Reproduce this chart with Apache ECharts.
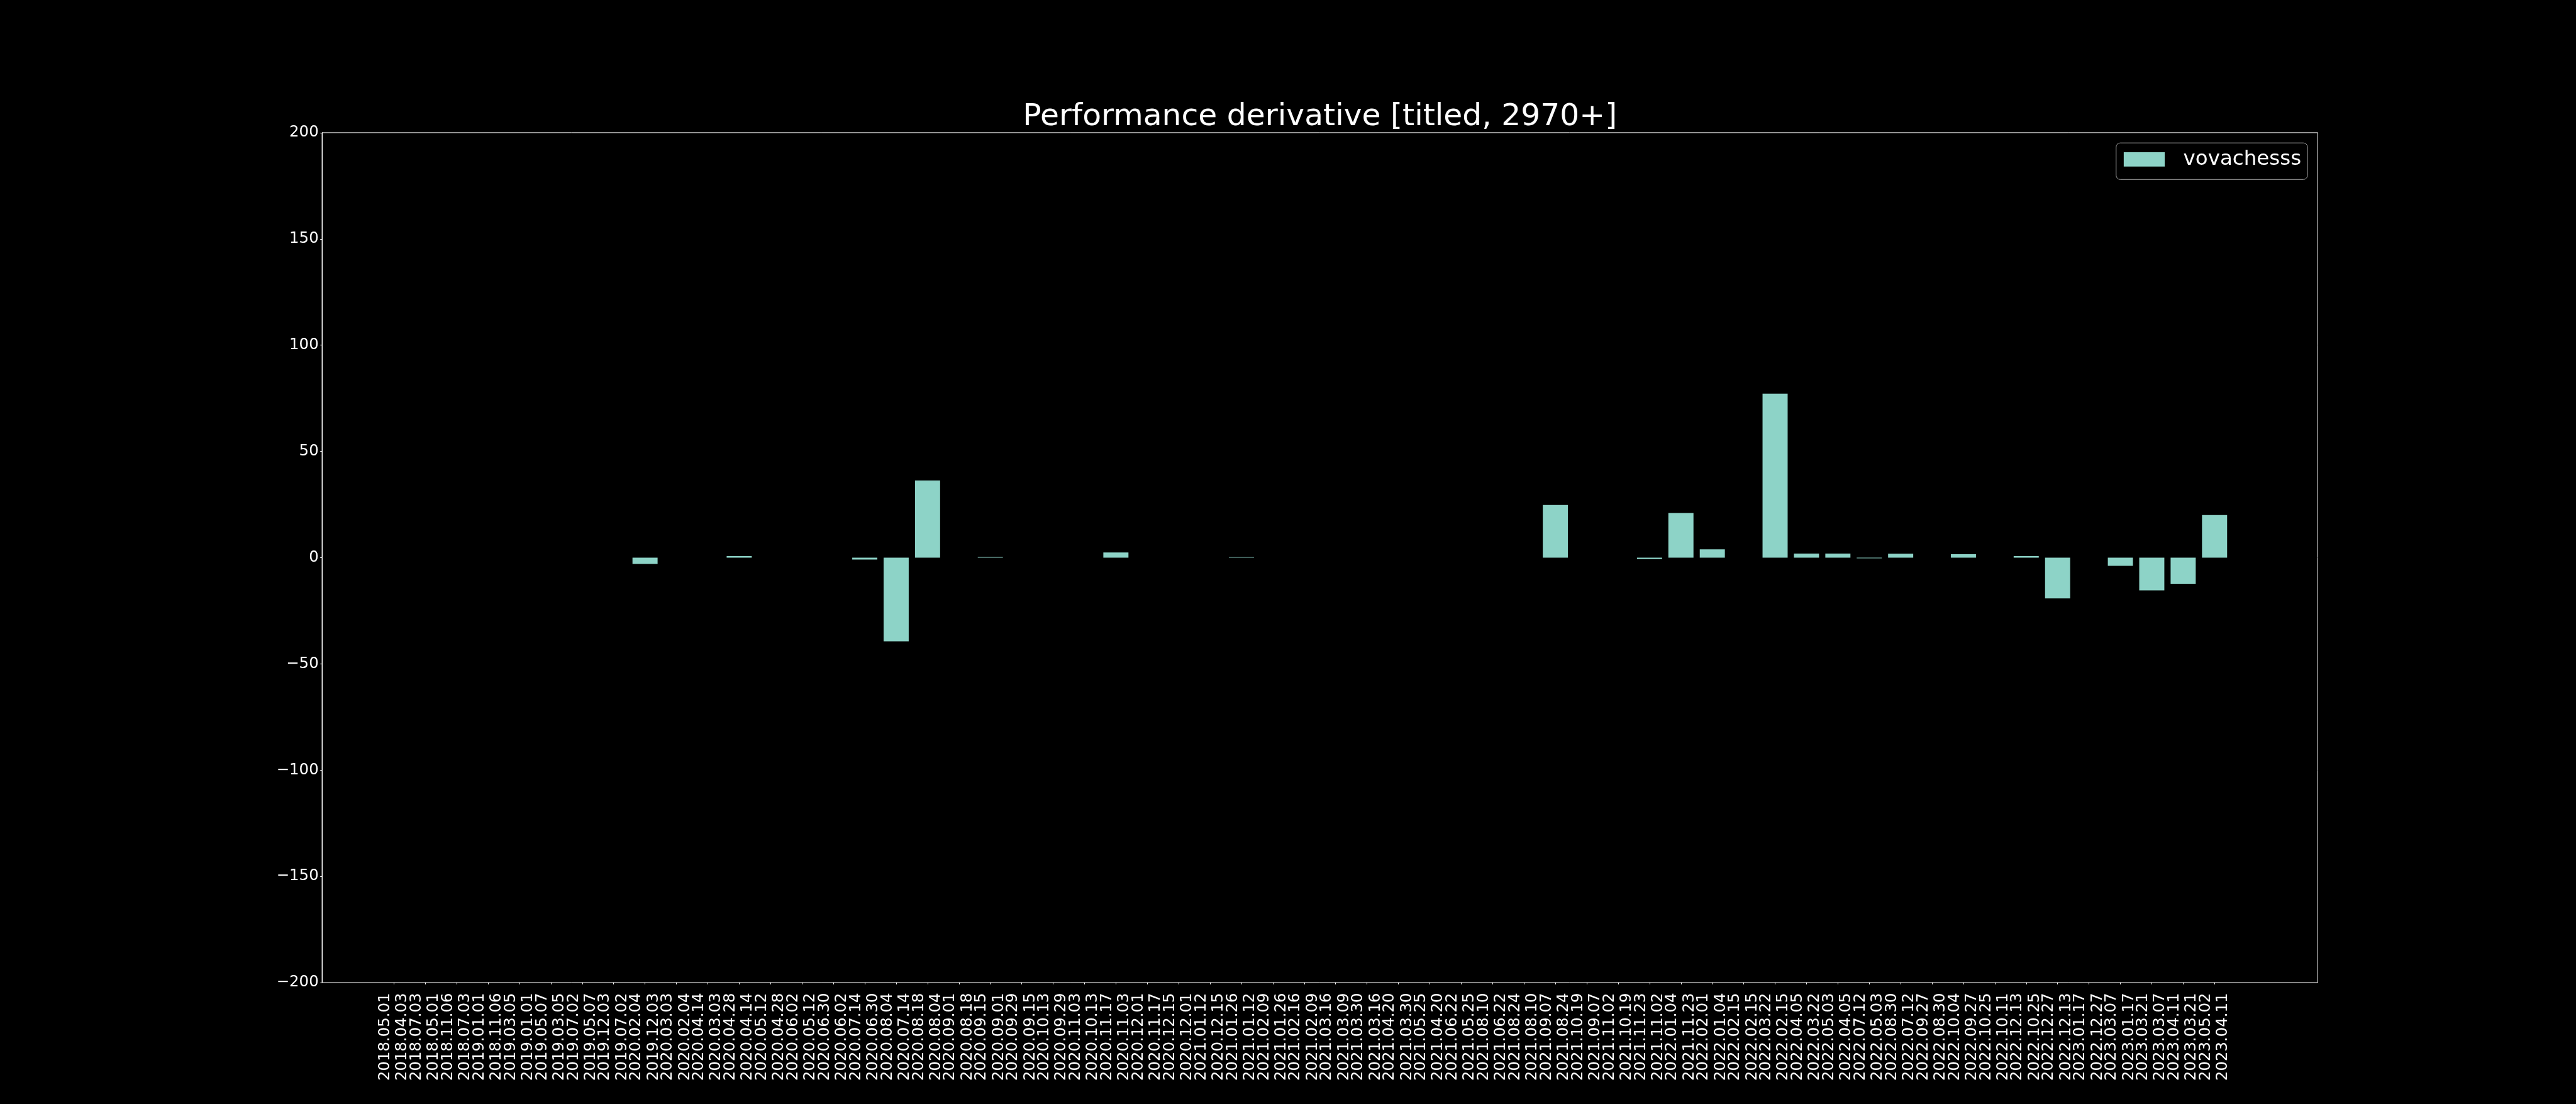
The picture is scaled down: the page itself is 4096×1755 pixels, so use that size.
<!DOCTYPE html>
<html>
<head>
<meta charset="utf-8">
<script src="https://cdn.jsdelivr.net/npm/echarts@6/dist/echarts.min.js"></script>
<style>
html, body { margin: 0; padding: 0; background: #000; }
#chart { width: 4096px; height: 1755px; }
</style>
</head>
<body>
<div id="chart"></div>
<script>
// ---- data ----
const endDates = [
  '2018.05.01','2018.07.03','2018.11.06','2019.01.01','2019.03.05','2019.05.07','2019.07.02','2019.12.03',
  '2020.02.04','2020.03.03','2020.04.14','2020.04.28','2020.05.12','2020.06.02','2020.06.30','2020.07.14',
  '2020.08.04','2020.08.18','2020.09.01','2020.09.15','2020.09.29','2020.10.13','2020.11.03','2020.11.17',
  '2020.12.01','2020.12.15','2021.01.12','2021.01.26','2021.02.09','2021.02.16','2021.03.16','2021.03.30',
  '2021.04.20','2021.05.25','2021.06.22','2021.08.10','2021.08.24','2021.09.07','2021.10.19','2021.11.02',
  '2021.11.23','2022.01.04','2022.02.01','2022.02.15','2022.03.22','2022.04.05','2022.05.03','2022.07.12',
  '2022.08.30','2022.09.27','2022.10.04','2022.10.25','2022.12.13','2022.12.27','2023.01.17','2023.03.07',
  '2023.03.21','2023.04.11','2023.05.02'
];
const startDates = [
  '2018.04.03','2018.05.01','2018.07.03','2018.11.06','2019.01.01','2019.03.05','2019.05.07','2019.07.02',
  '2019.12.03','2020.02.04','2020.03.03','2020.04.14','2020.04.28','2020.05.12','2020.06.02','2020.06.30',
  '2020.07.14','2020.08.04','2020.08.18','2020.09.01','2020.09.15','2020.09.29','2020.10.13','2020.11.03',
  '2020.11.17','2020.12.01','2020.12.15','2021.01.12','2021.01.26','2021.02.09','2021.03.09','2021.03.16',
  '2021.03.30','2021.04.20','2021.05.25','2021.06.22','2021.08.10','2021.08.24','2021.09.07','2021.10.19',
  '2021.11.02','2021.11.23','2022.01.04','2022.02.15','2022.02.15','2022.03.22','2022.04.05','2022.05.03',
  '2022.07.12','2022.08.30','2022.09.27','2022.10.11','2022.10.25','2022.12.13','2022.12.27','2023.01.17',
  '2023.03.07','2023.03.21','2023.04.11'
];
// one value per category (null = no bar at that position)
const values = [
  null, 0, 0, 0, 0, 0, 0, 0, -3.0, 0,
  0, 0.7, 0, 0, 0, -0.9, -39.4, 36.3, 0, 0.3,
  0, 0, 0, 2.4, 0, 0, 0, 0.2, 0, 0,
  0, 0, 0, 0, 0, 0, 0, 24.8, 0, 0,
  -0.7, 21.0, 3.9, 0, 77.2, 1.9, 1.9, -0.3, 1.8, 0,
  1.6, 0, 0.7, -19.2, 0, -3.9, -15.4, -12.3, 20.0
];
const categories = endDates.map((d, i) => d + '\n' + startDates[i]);
const seriesName = 'vovachesss';
const titleText = 'Performance derivative [titled, 2970+]';
const yMin = -200, yMax = 200, yStep = 50;

// ---- layout ----
const W = 4096, H = 1755;
const FONT = 'DejaVu Sans';
const gridLeft = 512.05, gridRight = 410.5, gridTop = 210.9, gridBottom = 193.05;
const xMin = -2.29, xMax = 61.29;          // axis extent in category units
const gridW = W - gridLeft - gridRight;
const unit = gridW / (xMax - xMin);
const catLeft = gridLeft + (-0.5 - xMin) * unit;
const catWidth = categories.length * unit;

const titleSize = 48.75;
const ctx = document.createElement('canvas').getContext('2d');
ctx.font = titleSize + 'px "' + FONT + '"';
const titleW = ctx.measureText(titleText).width;
const plotCenterX = gridLeft + gridW / 2;

const chart = echarts.init(document.getElementById('chart'), null, { renderer: 'canvas', width: W, height: H });
chart.setOption({
  backgroundColor: '#000000',
  animation: false,
  textStyle: { fontFamily: FONT },
  title: {
    text: titleText,
    left: plotCenterX - titleW / 2,
    top: 161.5,
    padding: 0,
    textStyle: { color: '#ffffff', fontSize: titleSize, fontWeight: 'normal', fontFamily: FONT, lineHeight: titleSize }
  },
  legend: {
    data: [seriesName],
    right: 426.9,
    top: 227.2,
    icon: 'rect',
    itemWidth: 65.2,
    itemHeight: 22.8,
    padding: [9.6, 10, 15.5, 12.1],
    backgroundColor: '#000000',
    borderColor: '#a3a3a3',
    borderWidth: 1,
    borderRadius: 6.5,
    textStyle: { color: '#ffffff', fontSize: 32.5, fontFamily: FONT, padding: [0, 0, 0, 24.5] }
  },
  grid: [
    { left: gridLeft, right: gridRight, top: gridTop, bottom: gridBottom,
      show: true, borderColor: '#ffffff', borderWidth: 1, backgroundColor: 'transparent' },
    { left: catLeft, width: catWidth, top: gridTop, bottom: gridBottom, show: false }
  ],
  xAxis: [
    { gridIndex: 0, type: 'value', min: xMin, max: xMax, show: false },
    {
      gridIndex: 1,
      type: 'category',
      data: categories,
      boundaryGap: true,
      axisLine: { show: false, onZero: false },
      axisTick: { show: true, alignWithLabel: true, interval: 0, length: 2.84, lineStyle: { color: '#ffffff', width: 1 } },
      axisLabel: {
        interval: 0,
        rotate: 90,
        margin: 16.5,
        color: '#ffffff',
        fontSize: 24.4,
        lineHeight: 27.3,
        fontFamily: FONT
      },
      splitLine: { show: false }
    }
  ],
  yAxis: [
    {
      gridIndex: 0,
      type: 'value',
      min: yMin,
      max: yMax,
      interval: yStep,
      axisLine: { show: true, onZero: false, lineStyle: { color: '#ffffff', width: 1 } },
      axisTick: { show: true, length: 2.84, lineStyle: { color: '#ffffff', width: 1 } },
      axisLabel: {
        margin: 5.4,
        color: '#ffffff',
        fontSize: 24.4,
        fontFamily: FONT,
        showMinLabel: true,
        showMaxLabel: true,
        formatter: function (v) { return v < 0 ? '\u2212' + Math.abs(v) : String(v); }
      },
      splitLine: { show: false }
    },
    { gridIndex: 1, type: 'value', min: yMin, max: yMax, interval: yStep, show: false }
  ],
  series: [{
    name: seriesName,
    type: 'bar',
    xAxisIndex: 1,
    yAxisIndex: 1,
    data: values,
    barWidth: '80%',
    itemStyle: { color: '#8dd3c7' },
    silent: true
  }]
});
</script>
</body>
</html>
